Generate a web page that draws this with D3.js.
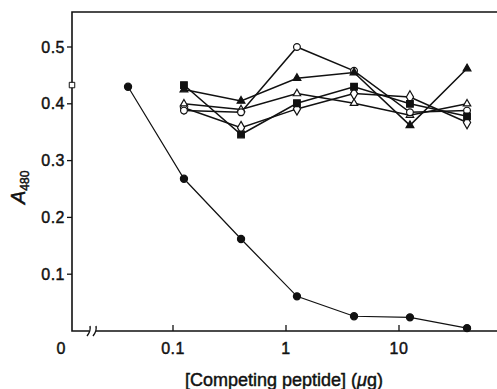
<!DOCTYPE html>
<html>
<head>
<meta charset="utf-8">
<script src="https://cdn.jsdelivr.net/npm/d3@7"></script>
<style>
  body { margin: 0; background: #fff; }
  text { font-family: "Liberation Sans", Arial, sans-serif; fill: #111; stroke: #111; stroke-width: 0.45px; }
</style>
</head>
<body>
<div id="chart"></div>
<script>
// doses of competing peptide (ug)
var doses = [0.125, 0.4, 1.25, 4, 12.5, 40];
var dosesHomolog = [0.04, 0.125, 0.4, 1.25, 4, 12.5, 40];

// A480 readings per peptide
var filledCircle = [0.43, 0.268, 0.162, 0.061, 0.026, 0.024, 0.005];
var openCircle = [0.388, 0.385, 0.50, 0.458, 0.385, 0.388];
var filledTriangle = [0.425, 0.405, 0.445, 0.455, 0.362, 0.462];
var openTriangle = [0.40, 0.39, 0.418, 0.401, 0.38, 0.40];
var filledSquare = [0.433, 0.346, 0.401, 0.43, 0.40, 0.378];
var openDiamond = [0.393, 0.358, 0.391, 0.418, 0.412, 0.367];
var noPeptide = 0.433; // open square at 0

var yTicks = [0.1, 0.2, 0.3, 0.4, 0.5];
var xTicks = [0.1, 1, 10];

var width = 497, height = 389;
var plotLeft = 72, plotTop = 12, plotBottom = 331;

var svg = d3.select("#chart").append("svg")
  .attr("width", width)
  .attr("height", height);

var x = d3.scaleLog().domain([0.1, 10]).range([173, 399]);
var y = d3.scaleLinear().domain([0, 0.5]).range([plotBottom, 47]);

// frame: left axis, top line, bottom axis with break
svg.append("path")
  .attr("d", "M" + width + "," + plotTop + "H" + plotLeft + "V" + plotBottom + "H" + 89 +
             "M" + 96 + "," + plotBottom + "H" + width)
  .attr("fill", "none").attr("stroke", "#111").attr("stroke-width", 1.6);

// break marks
[89, 95].forEach(function(bx) {
  svg.append("path")
    .attr("d", "M" + (bx - 2) + "," + (plotBottom + 5) + "Q" + (bx + 2) + "," + plotBottom + " " + (bx + 1) + "," + (plotBottom - 5))
    .attr("fill", "none").attr("stroke", "#111").attr("stroke-width", 1.4);
});

// y ticks (outside)
yTicks.forEach(function(t) {
  svg.append("line")
    .attr("x1", plotLeft - 5).attr("x2", plotLeft)
    .attr("y1", y(t)).attr("y2", y(t))
    .attr("stroke", "#111").attr("stroke-width", 1.3);
  svg.append("text")
    .attr("x", plotLeft - 7).attr("y", y(t) + 5.5)
    .attr("text-anchor", "end")
    .style("font-size", "16px")
    .style("letter-spacing", "0.5px")
    .text(t.toFixed(1));
});

// x ticks (inside)
xTicks.forEach(function(t) {
  svg.append("line")
    .attr("x1", x(t)).attr("x2", x(t))
    .attr("y1", plotBottom - 6).attr("y2", plotBottom)
    .attr("stroke", "#111").attr("stroke-width", 1.3);
  svg.append("text")
    .attr("x", x(t)).attr("y", plotBottom + 23)
    .attr("text-anchor", "middle")
    .style("font-size", "16px")
    .style("letter-spacing", "0.5px")
    .text(t < 1 ? t.toFixed(1) : t);
});
svg.append("text")
  .attr("x", plotLeft - 11).attr("y", plotBottom + 23)
  .attr("text-anchor", "middle")
  .style("font-size", "16px")
  .text("0");

// axis titles
var xt = svg.append("text")
  .attr("x", 284).attr("y", 386)
  .attr("text-anchor", "middle")
  .style("font-size", "18px");
xt.append("tspan").text("[Competing peptide] (");
xt.append("tspan").style("font-style", "italic").text("\u03bc");
xt.append("tspan").text("g)");

var yt = svg.append("text")
  .attr("transform", "translate(25,204) rotate(-90)")
  .style("font-size", "20px");
yt.append("tspan").style("font-style", "italic").text("A");
yt.append("tspan").attr("dy", 4).style("font-size", "12px").text("480");

// series
var line = d3.line()
  .x(function(d) { return x(d[0]); })
  .y(function(d) { return y(d[1]); });

function zipSeries(xs, ys) {
  return ys.map(function(v, i) { return [xs[i], v]; });
}

var series = [
  { vals: zipSeries(doses, openDiamond), shape: d3.symbolDiamond, size: 45, fill: "#fff" },
  { vals: zipSeries(doses, openTriangle), shape: d3.symbolTriangle, size: 24, fill: "#fff" },
  { vals: zipSeries(doses, openCircle), shape: d3.symbolCircle, size: 36, fill: "#fff" },
  { vals: zipSeries(doses, filledSquare), shape: d3.symbolSquare, size: 44, fill: "#111" },
  { vals: zipSeries(doses, filledTriangle), shape: d3.symbolTriangle, size: 26, fill: "#111" },
  { vals: zipSeries(dosesHomolog, filledCircle), shape: d3.symbolCircle, size: 40, fill: "#111", thin: true }
];

series.forEach(function(s) {
  svg.append("path")
    .datum(s.vals)
    .attr("d", line)
    .attr("fill", "none")
    .attr("stroke", "#111")
    .attr("stroke-width", s.thin ? 1.2 : 1.5);
});
series.forEach(function(s) {
  svg.selectAll(null)
    .data(s.vals)
    .enter().append("path")
    .attr("d", d3.symbol().type(s.shape).size(s.size))
    .attr("transform", function(d) { return "translate(" + x(d[0]) + "," + y(d[1]) + ")"; })
    .attr("fill", s.fill)
    .attr("stroke", "#111")
    .attr("stroke-width", 1.2);
});

// no-peptide control at 0
svg.append("path")
  .attr("d", d3.symbol().type(d3.symbolSquare).size(30))
  .attr("transform", "translate(" + plotLeft + "," + y(noPeptide) + ")")
  .attr("fill", "#fff")
  .attr("stroke", "#111")
  .attr("stroke-width", 1);
</script>
</body>
</html>
